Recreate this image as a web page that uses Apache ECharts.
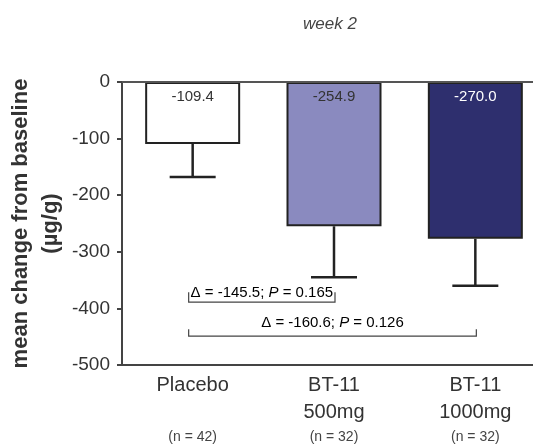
<!DOCTYPE html>
<html>
<head>
<meta charset="utf-8">
<script src="https://cdn.jsdelivr.net/npm/echarts@6/dist/echarts.min.js"></script>
<style>
  html, body { margin: 0; padding: 0; background: #fff; }
  #main { width: 533px; height: 444px; }
</style>
</head>
<body>
<div id="main"></div>
<script>
// data
var categories = ['Placebo', 'BT-11\n500mg', 'BT-11\n1000mg'];
var nLabels = ['(n = 42)', '(n = 32)', '(n = 32)'];
var meanValues = [-109.4, -254.9, -277];
var meanLabels = ['-109.4', '-254.9', '-270.0'];
var errorLow = [-168, -345, -360];
var yTicks = [0, -100, -200, -300, -400, -500];
var barColors = ['#ffffff', '#8a8abf', '#2e2f6e'];
var labelColors = ['#333', '#333', '#ffffff'];
var comparisons = [
  { from: 0, to: 1, y: -389, delta: '-145.5', p: '0.165' },
  { from: 0, to: 2, y: -449, delta: '-160.6', p: '0.126' }
];

var FONT = "'Liberation Sans', Arial, Helvetica, sans-serif";

var myChart = echarts.init(document.getElementById('main'));

var errData = meanValues.map(function (v, i) { return [i, v, errorLow[i]]; });
var cmpData = comparisons.map(function (c, i) { return [c.from, c.to, c.y, i]; });

var option = {
  animation: false,
  title: {
    text: 'week 2',
    left: 325,
    top: 11,
    textAlign: 'center',
    textStyle: { fontFamily: FONT, fontSize: 17, fontStyle: 'italic', fontWeight: 'normal', color: '#444' }
  },
  grid: { left: 122, top: 82, width: 424, height: 283, outerBoundsMode: 'none', containLabel: false },
  xAxis: {
    type: 'category',
    data: categories,
    axisLine: { onZero: false, lineStyle: { color: '#444', width: 2 } },
    axisTick: { show: false },
    axisLabel: {
      margin: 7,
      interval: 0,
      formatter: function (value, index) {
        var lines = value.split('\n');
        if (lines.length < 2) lines.push(' ');
        return '{c|' + lines[0] + '}\n{c|' + lines[1] + '}\n{n|' + nLabels[index] + '}';
      },
      rich: {
        c: { fontFamily: FONT, fontSize: 20, color: '#333', lineHeight: 27 },
        n: { fontFamily: FONT, fontSize: 14, color: '#444', lineHeight: 23 }
      }
    }
  },
  yAxis: {
    type: 'value',
    min: -500,
    max: 0,
    interval: 100,
    name: 'mean change from baseline\n(µg/g)',
    nameLocation: 'middle',
    nameGap: 56,
    nameMoveOverlap: false,
    nameTextStyle: { fontFamily: FONT, fontSize: 22, fontWeight: 'bold', color: '#333', lineHeight: 30 },
    axisLine: { show: true, lineStyle: { color: '#444', width: 2 } },
    axisTick: { show: true, length: 5, lineStyle: { color: '#444', width: 2 } },
    axisLabel: {
      margin: 12,
      fontFamily: FONT,
      fontSize: 19,
      color: '#333',
      customValues: yTicks
    },
    splitLine: { show: false }
  },
  series: [
    {
      type: 'bar',
      barWidth: 95,
      data: meanValues.map(function (v, i) {
        return { value: v, itemStyle: { color: barColors[i] } };
      }),
      itemStyle: { borderColor: '#222', borderWidth: 2 },
      markLine: {
        silent: true,
        symbol: 'none',
        label: { show: false },
        lineStyle: { color: '#555', width: 2, type: 'solid' },
        data: [{ yAxis: 0 }]
      },
      z: 2
    },
    {
      // error bars and value labels
      type: 'custom',
      data: errData,
      encode: { x: 0, y: 1 },
      z: 5,
      renderItem: function (params, api) {
        var i = api.value(0);
        var top = api.coord([i, api.value(1)]);
        var bot = api.coord([i, api.value(2)]);
        var zero = api.coord([i, 0]);
        var style = { stroke: '#222', lineWidth: 2.5 };
        return {
          type: 'group',
          children: [
            { type: 'line', shape: { x1: top[0], y1: top[1], x2: bot[0], y2: bot[1] }, style: style },
            { type: 'line', shape: { x1: bot[0] - 23, y1: bot[1], x2: bot[0] + 23, y2: bot[1] }, style: style },
            {
              type: 'text',
              style: {
                x: zero[0], y: zero[1] + 15,
                text: meanLabels[i],
                textAlign: 'center', textVerticalAlign: 'middle',
                font: '15px ' + FONT,
                fill: labelColors[i]
              }
            }
          ]
        };
      }
    },
    {
      // comparison brackets
      type: 'custom',
      data: cmpData,
      encode: { x: 0, y: 2 },
      z: 5,
      renderItem: function (params, api) {
        var c = comparisons[api.value(3)];
        var a = api.coord([api.value(0), api.value(2)]);
        var b = api.coord([api.value(1), api.value(2)]);
        var x1 = a[0] - 4, x2 = b[0] + 1, y = a[1];
        var tick = c.to - c.from > 1 ? 7 : 10;
        var style = { stroke: '#444', lineWidth: 1.2, fill: null };
        return {
          type: 'group',
          children: [
            { type: 'polyline', shape: { points: [[x1, y - tick], [x1, y], [x2, y], [x2, y - tick]] }, style: style },
            {
              type: 'text',
              style: {
                x: (x1 + x2) / 2, y: y - (tick === 10 ? 9 : 13),
                text: '{t|Δ = ' + c.delta + '; }{i|P}{t| = ' + c.p + '}',
                textAlign: 'center', textVerticalAlign: 'middle',
                rich: {
                  t: { fontFamily: FONT, fontSize: 15, color: '#333' },
                  i: { fontFamily: FONT, fontSize: 15, fontStyle: 'italic', color: '#333' }
                }
              }
            }
          ]
        };
      }
    }
  ]
};

myChart.setOption(option);
</script>
</body>
</html>
